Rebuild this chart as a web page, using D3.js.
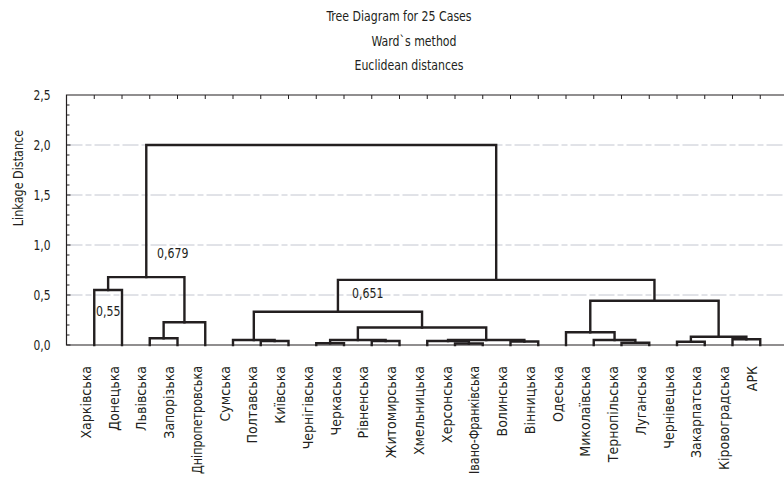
<!DOCTYPE html>
<html>
<head>
<meta charset="utf-8">
<script src="https://cdn.jsdelivr.net/npm/d3@7"></script>
<style>
  body { margin: 0; background: #fff; }
  svg { display: block; }
  text { font-family: "Liberation Sans Narrow", "DejaVu Sans Condensed", "Roboto Condensed", sans-serif; fill: #231f20; }
</style>
</head>
<body>
<svg id="chart" width="784" height="479"></svg>
<script>
// ---- data ----
const titles = ["Tree Diagram for 25 Cases", "Ward`s method", "Euclidean distances"];
const yLabel = "Linkage Distance";
const leaves = ["Харківська","Донецька","Львівська","Запорізька","Дніпропетровська","Сумська","Полтавська","Київська","Чернігівська","Черкаська","Рівненська","Житомирська","Хмельницька","Херсонська","Івано-Франківська","Волинська","Вінницька","Одеська","Миколаївська","Тернопільська","Луганська","Чернівецька","Закарпатська","Кіровоградська","АРК"];
// merges: nodes 0..24 are leaves, node 25+k is the k-th merge
const mergeLeft  = [0, 2, 26, 25, 6, 5, 8, 10, 31, 13, 12, 15, 35, 33, 30, 19, 18, 17, 21, 23, 43, 42, 39, 28];
const mergeRight = [1, 3, 4, 27, 7, 29, 9, 11, 32, 14, 34, 16, 36, 37, 38, 20, 40, 41, 22, 24, 44, 45, 46, 47];
const mergeHeight = [0.55, 0.067, 0.227, 0.679, 0.04, 0.05, 0.017, 0.04, 0.05, 0.015, 0.04, 0.035, 0.05, 0.175, 0.333, 0.023, 0.05, 0.127, 0.033, 0.057, 0.083, 0.443, 0.651, 2.0];
const yTicks = [0, 0.5, 1.0, 1.5, 2.0, 2.5];
const gridValues = [0.5, 1.0, 1.5, 2.0];
const annotations = ["0,55", "0,679", "0,651"];

// ---- layout ----
const svg = d3.select("#chart");
const pLeft = 66.5, pTop = 95, pBottom = 345, step = 27.75;
const x = d3.scaleLinear().domain([-1, leaves.length]).range([pLeft, pLeft + step * (leaves.length + 1)]);
const y = d3.scaleLinear().domain([0, 2.5]).range([pBottom, pTop]);
const fmt = v => d3.format(".1f")(v).replace(".", ",");

function condense(sel, factor, maxLen) {
  sel.each(function () {
    let len = this.getComputedTextLength() * factor;
    if (maxLen && len > maxLen) len = maxLen;
    d3.select(this).attr("textLength", len).attr("lengthAdjust", "spacingAndGlyphs");
  });
}

// titles
const titleX = [399, 414, 409];
const titleY = [21, 46, 70];
svg.selectAll("text.title").data(titles).join("text")
  .attr("class", "title")
  .attr("x", (d, i) => titleX[i]).attr("y", (d, i) => titleY[i])
  .attr("text-anchor", "middle").style("font-size", "14.5px").text(d => d)
  .call(condense, 0.84);

// gridlines
svg.append("g").selectAll("line").data(gridValues).join("line")
  .attr("x1", pLeft).attr("x2", 784)
  .attr("y1", d => y(d)).attr("y2", d => y(d))
  .attr("stroke", "#c3c6d0").attr("stroke-width", 1).attr("stroke-dasharray", "16,3,6,3");

// left axis with labels
const yAxis = d3.axisLeft(y).tickValues(yTicks).tickFormat(fmt).tickSize(0).tickPadding(16);
const gy = svg.append("g").attr("transform", `translate(${pLeft},0)`).call(yAxis);
gy.select(".domain").remove();
gy.selectAll("text").style("font-size", "14.5px").attr("fill", "#231f20")
  .attr("font-family", null).call(condense, 0.82);

// minor & major ticks (inward)
const minor = d3.range(0, 25).map(i => i / 10);
svg.append("g").selectAll("line").data(minor).join("line")
  .attr("x1", pLeft).attr("x2", (d, i) => pLeft + (i % 5 === 0 ? 4 : 3))
  .attr("y1", d => y(d)).attr("y2", d => y(d))
  .attr("stroke", "#231f20").attr("stroke-width", 1);

// top ticks (inward)
svg.append("g").selectAll("line").data(leaves).join("line")
  .attr("x1", (d, i) => x(i)).attr("x2", (d, i) => x(i))
  .attr("y1", pTop).attr("y2", pTop + 4)
  .attr("stroke", "#231f20").attr("stroke-width", 1);

// frame
svg.append("path")
  .attr("d", `M784,${pTop}H${pLeft}V${pBottom}H784`)
  .attr("fill", "none").attr("stroke", "#231f20").attr("stroke-width", 1.2);

// dendrogram
const nodeX = leaves.map((d, i) => x(i));
const nodeH = leaves.map(() => 0);
const paths = [];
mergeLeft.forEach((l, k) => {
  const r = mergeRight[k], h = mergeHeight[k];
  paths.push(`M${nodeX[l]},${y(nodeH[l])}V${y(h)}H${nodeX[r]}V${y(nodeH[r])}`);
  nodeX.push((nodeX[l] + nodeX[r]) / 2);
  nodeH.push(h);
});
svg.append("g").selectAll("path").data(paths).join("path")
  .attr("d", d => d)
  .attr("fill", "none").attr("stroke", "#231f20").attr("stroke-width", 2.4)
  .attr("stroke-linejoin", "miter").attr("stroke-linecap", "square");

// annotations
const annX = [96, 157, 352];
const annY = [316, 258, 298];
svg.selectAll("text.ann").data(annotations).join("text")
  .attr("class", "ann").attr("x", (d, i) => annX[i]).attr("y", (d, i) => annY[i])
  .style("font-size", "14.5px").text(d => d)
  .call(condense, 0.84);

// y label
svg.append("text")
  .attr("transform", "translate(23,178) rotate(-90)")
  .attr("text-anchor", "middle").style("font-size", "14.5px").text(yLabel)
  .call(condense, 0.86);

// leaf labels
svg.selectAll("text.leaf").data(leaves).join("text")
  .attr("class", "leaf")
  .attr("transform", (d, i) => `translate(${x(i) - 3.5},366) rotate(-90)`)
  .attr("text-anchor", "end").style("font-size", "14px").text(d => d)
  .call(condense, 1.0, 108);
</script>
</body>
</html>
